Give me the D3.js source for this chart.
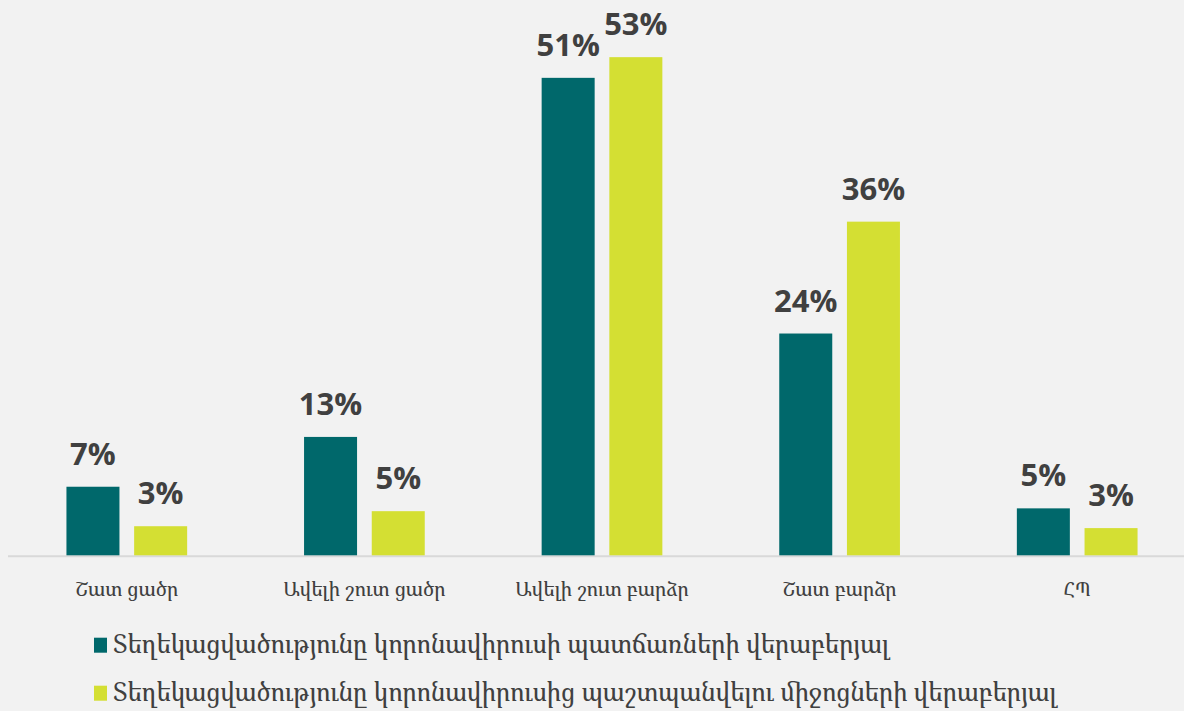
<!DOCTYPE html>
<html>
<head>
<meta charset="utf-8">
<script src="https://cdn.jsdelivr.net/npm/d3@7"></script>
<style>
  html, body { margin: 0; padding: 0; background: #f2f2f2; }
  svg { display: block; }
</style>
</head>
<body>
<svg id="chart" width="1184" height="711"></svg>
<script>
const categories = ["Շատ ցածր", "Ավելի շուտ ցածր", "Ավելի շուտ բարձր", "Շատ բարձր", "ՀՊ"];
const seriesNames = [
  "Տեղեկացվածությունը կորոնավիրուսի պատճառների վերաբերյալ",
  "Տեղեկացվածությունը կորոնավիրուսից պաշտպանվելու միջոցների վերաբերյալ"
];
const causesValues = [7.4, 12.7, 50.9, 23.7, 5.1];
const protectionValues = [3.2, 4.8, 53.1, 35.6, 3.0];
const colors = ["#00686b", "#d4df33"];

const series = [causesValues, protectionValues];

const svg = d3.select("#chart");
const W = 1184, H = 711;
svg.append("rect").attr("width", W).attr("height", H).attr("fill", "#f2f2f2");

const baseY = 556.3;
const x0 = d3.scaleBand().domain(categories).range([8, 1196]).paddingInner(0.492).paddingOuter(0.246);
const x1 = d3.scaleBand().domain([0, 1]).range([0, x0.bandwidth()]).paddingInner(0.217).paddingOuter(0);
const y = d3.scaleLinear().domain([0, 55]).range([baseY, baseY - 55 * 9.4]);

const g = svg.append("g");
const armFont = "'Noto Serif Armenian', 'FreeSerif', 'DejaVu Serif', serif";

// axis line
g.append("line")
  .attr("x1", 8).attr("x2", W)
  .attr("y1", baseY).attr("y2", baseY)
  .attr("stroke", "#d9d9d9").attr("stroke-width", 2);

const data = [];
categories.forEach((c, i) => series.forEach((s, j) => data.push({ c, j, v: s[i] })));

g.selectAll("rect.bar").data(data).join("rect")
  .attr("class", "bar")
  .attr("x", d => x0(d.c) + x1(d.j))
  .attr("width", x1.bandwidth())
  .attr("y", d => y(d.v))
  .attr("height", d => y(0) - y(d.v) - 1)
  .attr("fill", d => colors[d.j]);

g.selectAll("text.val").data(data).join("text")
  .attr("class", "val")
  .attr("x", d => x0(d.c) + x1(d.j) + x1.bandwidth() / 2)
  .attr("y", d => y(d.v) - 22)
  .attr("text-anchor", "middle")
  .attr("font-family", "'Open Sans', sans-serif")
  .attr("font-weight", "bold")
  .attr("font-size", 31)
  .attr("fill", "#404040")
  .text(d => Math.round(d.v) + "%");

// category labels
const xAxis = d3.axisBottom(x0).tickSize(0).tickPadding(0);
const ax = g.append("g").attr("transform", `translate(0,${baseY})`).call(xAxis);
ax.select(".domain").remove();
ax.selectAll("text")
  .attr("dy", 0)
  .attr("y", 40)
  .attr("font-family", armFont)
  .attr("font-size", 19.8)
  .attr("fill", "#404040");

// legend
const legend = g.append("g");
seriesNames.forEach((name, j) => {
  const ly = 652.7 + j * 48;
  legend.append("rect")
    .attr("x", 94).attr("y", ly - 15).attr("width", 13).attr("height", 15)
    .attr("fill", colors[j]);
  legend.append("text")
    .attr("x", 113).attr("y", ly)
    .attr("font-family", armFont)
    .attr("font-size", 25)
    .attr("fill", "#404040")
    .text(name);
});
</script>
</body>
</html>
